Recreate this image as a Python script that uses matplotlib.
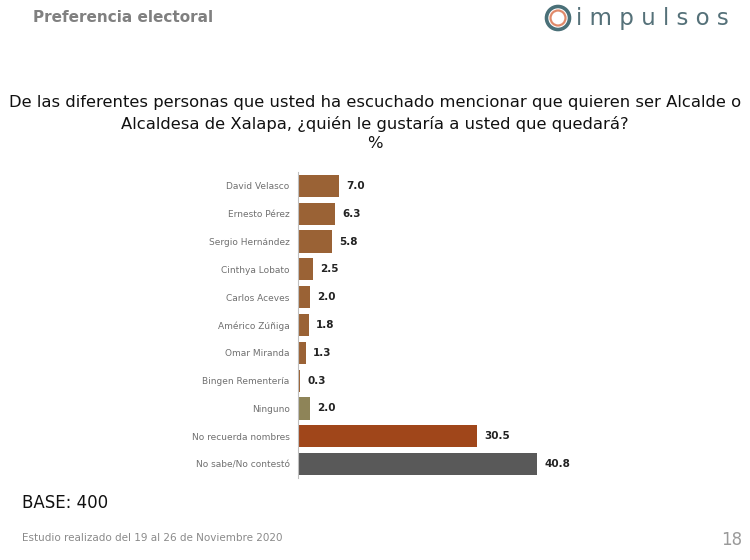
import matplotlib
matplotlib.use("Agg")
import matplotlib.pyplot as plt
from matplotlib.patches import Circle

categories = ["David Velasco", "Ernesto Pérez", "Sergio Hernández", "Cinthya Lobato",
              "Carlos Aceves", "Américo Zúñiga", "Omar Miranda", "Bingen Rementería",
              "Ninguno", "No recuerda nombres", "No sabe/No contestó"]
values = [7.0, 6.3, 5.8, 2.5, 2.0, 1.8, 1.3, 0.3, 2.0, 30.5, 40.8]
colors = ["#9a6235"] * 8 + ["#8e8458", "#a0461a", "#595959"]

fig = plt.figure(figsize=(7.5, 5.6), dpi=100)
fig.patch.set_facecolor("white")

ax = fig.add_axes([298/750, 1-478/560, 264/750, 306/560])
y = list(range(len(categories)))
ax.barh(y, values, color=colors, height=0.8, edgecolor="none")
ax.set_xlim(0, 45)
ax.set_ylim(len(categories)-0.5, -0.5)
ax.set_yticks(y)
ax.set_yticklabels(categories, fontsize=6.5, color="#707070")
ax.tick_params(axis="y", length=0, pad=6)
ax.set_xticks([])
for s in ["top", "right", "bottom"]:
    ax.spines[s].set_visible(False)
ax.spines["left"].set_color("#bfbfbf")
ax.spines["left"].set_linewidth(0.8)
for yi, v in zip(y, values):
    ax.text(v + 1.3, yi, f"{v:.1f}", va="center", ha="left", fontsize=7.5,
            fontweight="bold", color="#222222")

fig.text(33/750, 1-18/560, "Preferencia electoral", fontsize=11, fontweight="bold",
         color="#808080", va="center", ha="left")

# logo
lax = fig.add_axes([0, 0, 1, 1], facecolor="none")
lax.set_xlim(0, 750); lax.set_ylim(560, 0); lax.axis("off")
lax.add_patch(Circle((558, 18), 11.5, fill=False, ec="#4a7078", lw=2.6))
lax.add_patch(Circle((558, 18), 7.5, fill=False, ec="#e08a6a", lw=1.6))
fig.text(576/750, 1-18/560, "i m p u l s o s", fontsize=16.5, color="#557179",
         va="center", ha="left")

fig.text(375/750, 1-102/560, "De las diferentes personas que usted ha escuchado mencionar que quieren ser Alcalde o",
         fontsize=11.8, color="#111111", ha="center", va="center")
fig.text(375/750, 1-124/560, "Alcaldesa de Xalapa, ¿quién le gustaría a usted que quedará?",
         fontsize=11.8, color="#111111", ha="center", va="center")
fig.text(375/750, 1-144/560, "%", fontsize=11.8, color="#111111", ha="center", va="center")

fig.text(22/750, 1-503/560, "BASE: 400", fontsize=12, color="#111111", ha="left", va="center")
fig.text(22/750, 1-538/560, "Estudio realizado del 19 al 26 de Noviembre 2020", fontsize=7.5,
         color="#8a8a8a", ha="left", va="center")
fig.text(742/750, 1-540/560, "18", fontsize=12, color="#9a9a9a", ha="right", va="center")

fig.savefig("out.png", dpi=100, facecolor="white")
